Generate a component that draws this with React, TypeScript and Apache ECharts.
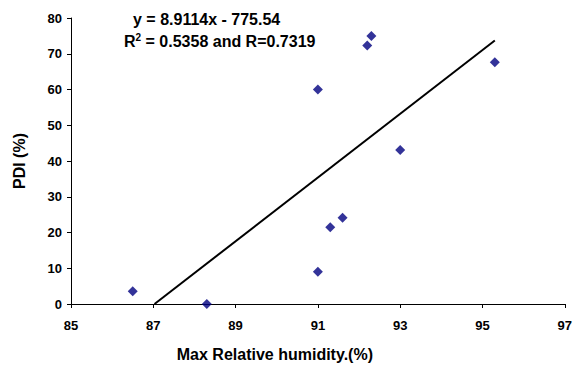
import React, { useEffect, useRef } from "react";
import * as echarts from "echarts";

const humidity = [86.5, 88.3, 91.0, 91.0, 91.3, 91.6, 92.2, 92.3, 93.0, 95.3];
const pdi = [3.6, 0, 9.0, 60.0, 21.5, 24.1, 72.3, 75.0, 43.1, 67.6];
const trendX = [87.03, 95.3];
const trendY = [0, 73.7];
const xTicks = [85, 87, 89, 91, 93, 95, 97];
const equationText = "y = 8.9114x - 775.54";
const rText = "R{sup|2} = 0.5358 and R=0.7319";

export default function App() {
  const ref = useRef<HTMLDivElement>(null);
  useEffect(() => {
    if (!ref.current) return;
    const chart = echarts.init(ref.current, undefined, { renderer: "svg" });
    const font = "'Liberation Sans', Arial, sans-serif";
    chart.setOption({
      animation: false,
      backgroundColor: "#ffffff",
      grid: { left: 71, right: 5, top: 18, bottom: 65, containLabel: false },
      xAxis: {
        type: "value",
        min: xTicks[0],
        max: xTicks[xTicks.length - 1],
        interval: 2,
        name: "Max Relative humidity.(%)",
        nameLocation: "middle",
        nameGap: 42,
        nameTextStyle: {
          fontFamily: font,
          fontWeight: "bold",
          fontSize: 16,
          color: "#000",
          padding: [0, 86, 0, 0],
        },
        axisLine: { show: true, onZero: false, lineStyle: { color: "#000", width: 1 } },
        axisTick: { show: true, length: 4, lineStyle: { color: "#000" } },
        axisLabel: { fontFamily: font, fontWeight: "bold", fontSize: 13, color: "#000", margin: 15 },
        splitLine: { show: false },
      },
      yAxis: {
        type: "value",
        min: 0,
        max: 80,
        interval: 10,
        name: "PDI (%)",
        nameLocation: "middle",
        nameGap: 44,
        nameRotate: 90,
        nameTextStyle: { fontFamily: font, fontWeight: "bold", fontSize: 16, color: "#000" },
        axisLine: { show: true, lineStyle: { color: "#000", width: 1 } },
        axisTick: { show: true, length: 4, lineStyle: { color: "#000" } },
        axisLabel: { fontFamily: font, fontWeight: "bold", fontSize: 13, color: "#000", margin: 9 },
        splitLine: { show: false },
      },
      series: [
        {
          type: "line",
          data: trendX.map((x, i) => [x, trendY[i]]),
          symbol: "none",
          lineStyle: { color: "#000", width: 2 },
          z: 2,
        },
        {
          type: "scatter",
          data: humidity.map((x, i) => [x, pdi[i]]),
          symbol: "diamond",
          symbolSize: 10,
          itemStyle: { color: "#000080" },
          z: 3,
        },
      ],
      graphic: [
        {
          type: "text",
          left: 133,
          top: 11,
          style: { text: equationText, font: `bold 16px ${font}`, fill: "#000" },
        },
        {
          type: "text",
          left: 124,
          top: 32,
          style: {
            text: rText,
            font: `bold 16px ${font}`,
            fill: "#000",
            rich: {
              sup: { fontSize: 10, fontWeight: "bold", fontFamily: font, padding: [0, 0, 8, 0], fill: "#000" },
            },
          },
        },
      ],
    });
    return () => chart.dispose();
  }, []);
  return (
    <div
      ref={ref}
      style={{ position: "fixed", left: 0, top: 0, width: 575, height: 369, background: "#fff" }}
    />
  );
}
